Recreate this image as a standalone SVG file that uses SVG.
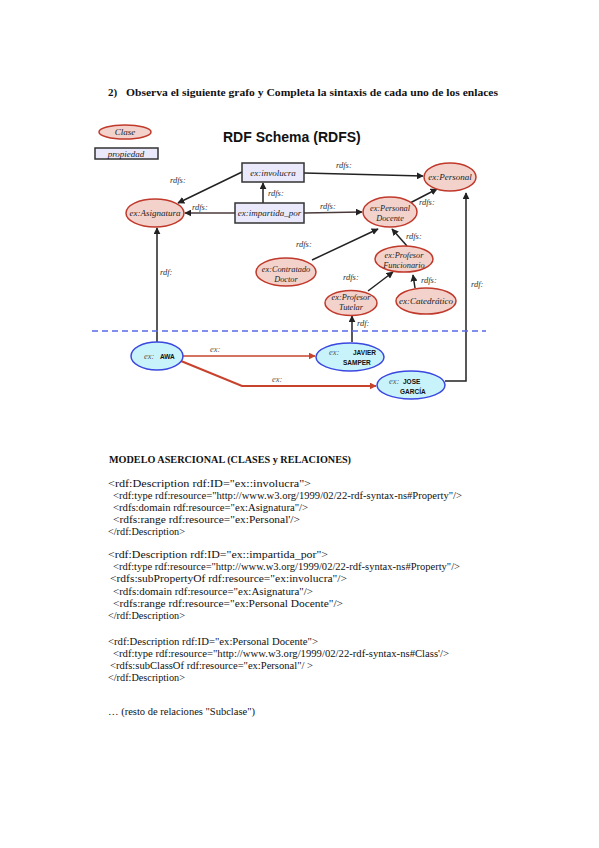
<svg xmlns="http://www.w3.org/2000/svg" width="599" height="848" viewBox="0 0 599 848">
<style>
.bg{fill:#ffffff}
.cls{fill:#f3d2cb;stroke:#c0392b;stroke-width:1.5}
.prop{fill:#e9e9fb;stroke:#333333;stroke-width:1.5}
.ind{fill:#c9f3fb;stroke:#3a48e0;stroke-width:1.5}
.nt{font-family:"Liberation Serif",serif;font-style:italic;font-size:9px;fill:#222222;text-anchor:middle}
.n2{font-family:"Liberation Serif",serif;font-style:italic;font-size:8.3px;fill:#222222;text-anchor:middle}
.lb{font-family:"Liberation Serif",serif;font-style:italic;font-size:8.5px;fill:#333333}
.ex{font-family:"Liberation Serif",serif;font-style:italic;font-size:8.5px;fill:#555555}
.bn{font-family:"Liberation Sans",sans-serif;font-weight:bold;font-size:6.5px;fill:#111111}
.e{fill:none;stroke:#222222;stroke-width:1.5}
.e2{fill:none;stroke:#4a3a3a;stroke-width:1.5}
.r1{fill:none;stroke:#c8432e;stroke-width:1.5}
.r2{fill:none;stroke:#c8432e;stroke-width:2.2}
.dash{fill:none;stroke:#5a6ae6;stroke-width:1.5;stroke-dasharray:6 4}
.title{font-family:"Liberation Sans",sans-serif;font-weight:bold;font-size:14px;fill:#111111}
.h{font-family:"Liberation Serif",serif;font-weight:bold;font-size:11px;fill:#111111}
.c{font-family:"Liberation Serif",serif;font-size:10.5px;fill:#111111}
</style>
<defs>
<marker id="ab" viewBox="0 0 10 10" refX="9" refY="5" markerWidth="7" markerHeight="7" markerUnits="userSpaceOnUse" orient="auto"><path d="M0,0 L10,5 L0,10 z" fill="#222222"/></marker>
<marker id="ar" viewBox="0 0 10 10" refX="9" refY="5" markerWidth="7" markerHeight="7" markerUnits="userSpaceOnUse" orient="auto"><path d="M0,0 L10,5 L0,10 z" fill="#c8432e"/></marker>
</defs>
<rect class="bg" x="0" y="0" width="599" height="848"/>

<text class="h" x="108" y="96">2)</text>
<text class="h" x="126" y="96" textLength="372" lengthAdjust="spacingAndGlyphs">Observa el siguiente grafo y Completa la sintaxis de cada uno de los enlaces</text>

<g id="legend-clase"><ellipse class="cls" cx="125" cy="132" rx="26" ry="7"/><text class="nt" x="125" y="135">Clase</text></g>
<g id="legend-propiedad"><rect class="prop" x="95" y="148" width="63" height="11"/><text class="nt" x="126" y="157">propiedad</text></g>
<text class="title" x="223" y="142">RDF Schema (RDFS)</text>

<g id="connectors">
<line class="e" x1="242" y1="172" x2="178" y2="203" marker-end="url(#ab)"/>
<text class="lb" x="170" y="183">rdfs:</text>
<line class="e2" x1="235" y1="213" x2="185" y2="213" marker-end="url(#ab)"/>
<text class="lb" x="192" y="210">rdfs:</text>
<line class="e" x1="263" y1="203" x2="263" y2="183" marker-end="url(#ab)"/>
<text class="lb" x="268" y="196">rdfs:</text>
<line class="e" x1="304" y1="173" x2="423" y2="176" marker-end="url(#ab)"/>
<text class="lb" x="336" y="168">rdfs:</text>
<line class="e2" x1="304" y1="213" x2="362" y2="212" marker-end="url(#ab)"/>
<text class="lb" x="320" y="209">rdfs:</text>
<line class="e" x1="410" y1="203" x2="437" y2="189" marker-end="url(#ab)"/>
<text class="lb" x="419" y="205">rdfs:</text>
<line class="e" x1="312" y1="260" x2="378" y2="229" marker-end="url(#ab)"/>
<text class="lb" x="296" y="247">rdfs:</text>
<line class="e" x1="407" y1="246" x2="392" y2="229" marker-end="url(#ab)"/>
<text class="lb" x="406" y="239">rdfs:</text>
<line class="e" x1="368" y1="291" x2="393" y2="272" marker-end="url(#ab)"/>
<text class="lb" x="343" y="280">rdfs:</text>
<line class="e" x1="415" y1="288" x2="413" y2="275" marker-end="url(#ab)"/>
<text class="lb" x="421" y="283">rdfs:</text>
<line class="e" x1="157" y1="342" x2="157" y2="228" marker-end="url(#ab)"/>
<text class="lb" x="160" y="275">rdf:</text>
<line class="e" x1="352" y1="342" x2="352" y2="316" marker-end="url(#ab)"/>
<text class="lb" x="357" y="326">rdf:</text>
<polyline class="e" points="445,381 466,381 466,193" marker-end="url(#ab)"/>
<text class="lb" x="471" y="287">rdf:</text>
<line class="r1" x1="183" y1="356" x2="315" y2="356" marker-end="url(#ar)"/>
<text class="ex" x="210" y="352">ex:</text>
<polyline class="r2" points="181,361 242,386 376,386" marker-end="url(#ar)"/>
<text class="ex" x="272" y="382">ex:</text>
<line class="dash" x1="92" y1="331" x2="486" y2="331"/>
</g>

<g id="n-involucra"><rect class="prop" x="242" y="163" width="62" height="19"/><text class="nt" x="273" y="175.5">ex:involucra</text></g>
<g id="n-impartida"><rect class="prop" x="235" y="203" width="69" height="20"/><text class="nt" x="269.5" y="216">ex:impartida_por</text></g>
<g id="n-asignatura"><ellipse class="cls" cx="155" cy="213" rx="29" ry="14"/><text class="nt" x="155" y="216">ex:Asignatura</text></g>
<g id="n-personal"><ellipse class="cls" cx="450" cy="177" rx="26" ry="14"/><text class="nt" x="450" y="180">ex:Personal</text></g>
<g id="n-docente"><ellipse class="cls" cx="390" cy="212" rx="27" ry="15"/><text class="n2" x="390" y="211">ex:Personal</text><text class="n2" x="390" y="221">Docente</text></g>
<g id="n-contratado"><ellipse class="cls" cx="286" cy="272" rx="30" ry="14"/><text class="n2" x="286" y="271.5">ex:Contratado</text><text class="n2" x="286" y="281.5">Doctor</text></g>
<g id="n-funcionario"><ellipse class="cls" cx="404" cy="259" rx="29" ry="13"/><text class="n2" x="404" y="258">ex:Profesor</text><text class="n2" x="404" y="267.5">Funcionario</text></g>
<g id="n-tutelar"><ellipse class="cls" cx="351" cy="303" rx="26" ry="12.5"/><text class="n2" x="351" y="300">ex:Profesor</text><text class="n2" x="351" y="310">Tutelar</text></g>
<g id="n-catedratico"><ellipse class="cls" cx="426" cy="301" rx="30" ry="13"/><text class="nt" x="426" y="304">ex:Catedrático</text></g>

<g id="n-awa"><ellipse class="ind" cx="157" cy="356" rx="26" ry="14"/><text class="ex" x="144" y="359">ex:</text><text class="bn" x="160" y="359">AWA</text></g>
<g id="n-javier"><ellipse class="ind" cx="350" cy="357" rx="34" ry="14"/><text class="ex" x="329" y="355">ex:</text><text class="bn" x="353" y="355">JAVIER</text><text class="bn" x="343" y="365">SAMPER</text></g>
<g id="n-jose"><ellipse class="ind" cx="411" cy="385" rx="34" ry="14"/><text class="ex" x="389" y="384">ex:</text><text class="bn" x="403" y="384">JOSE</text><text class="bn" x="400" y="394">GARCÍA</text></g>

<text class="h" x="109" y="463" textLength="242" lengthAdjust="spacingAndGlyphs">MODELO ASERCIONAL (CLASES y RELACIONES)</text>

<text class="c" x="108" y="487" textLength="203" lengthAdjust="spacingAndGlyphs">&lt;rdf:Description rdf:ID="ex::involucra"&gt;</text>
<text class="c" x="113" y="499" textLength="349" lengthAdjust="spacingAndGlyphs">&lt;rdf:type rdf:resource="http://www.w3.org/1999/02/22-rdf-syntax-ns#Property"/&gt;</text>
<text class="c" x="113" y="511" textLength="195" lengthAdjust="spacingAndGlyphs">&lt;rdfs:domain rdf:resource="ex:Asignatura"/&gt;</text>
<text class="c" x="113" y="523" textLength="187" lengthAdjust="spacingAndGlyphs">&lt;rdfs:range rdf:resource="ex:Personal'/&gt;</text>
<text class="c" x="108" y="535" textLength="77" lengthAdjust="spacingAndGlyphs">&lt;/rdf:Description&gt;</text>

<text class="c" x="108" y="558" textLength="220" lengthAdjust="spacingAndGlyphs">&lt;rdf:Description rdf:ID="ex::impartida_por"&gt;</text>
<text class="c" x="113" y="570" textLength="347" lengthAdjust="spacingAndGlyphs">&lt;rdf:type rdf:resource="http://www.w3.org/1999/02/22-rdf-syntax-ns#Property"/&gt;</text>
<text class="c" x="110" y="582" textLength="237" lengthAdjust="spacingAndGlyphs">&lt;rdfs:subPropertyOf rdf:resource="ex:involucra"/&gt;</text>
<text class="c" x="113" y="595" textLength="200" lengthAdjust="spacingAndGlyphs">&lt;rdfs:domain rdf:resource="ex:Asignatura"/&gt;</text>
<text class="c" x="113" y="607" textLength="230" lengthAdjust="spacingAndGlyphs">&lt;rdfs:range rdf:resource="ex:Personal Docente"/&gt;</text>
<text class="c" x="108" y="619" textLength="77" lengthAdjust="spacingAndGlyphs">&lt;/rdf:Description&gt;</text>

<text class="c" x="108" y="645" textLength="210" lengthAdjust="spacingAndGlyphs">&lt;rdf:Description rdf:ID="ex:Personal Docente"&gt;</text>
<text class="c" x="113" y="657" textLength="336" lengthAdjust="spacingAndGlyphs">&lt;rdf:type rdf:resource="http://www.w3.org/1999/02/22-rdf-syntax-ns#Class'/&gt;</text>
<text class="c" x="110" y="669" textLength="203" lengthAdjust="spacingAndGlyphs">&lt;rdfs:subClassOf rdf:resource="ex:Personal"/ &gt;</text>
<text class="c" x="108" y="681" textLength="77" lengthAdjust="spacingAndGlyphs">&lt;/rdf:Description&gt;</text>

<text class="c" x="108" y="715" textLength="147" lengthAdjust="spacingAndGlyphs">… (resto de relaciones "Subclase")</text>
</svg>
